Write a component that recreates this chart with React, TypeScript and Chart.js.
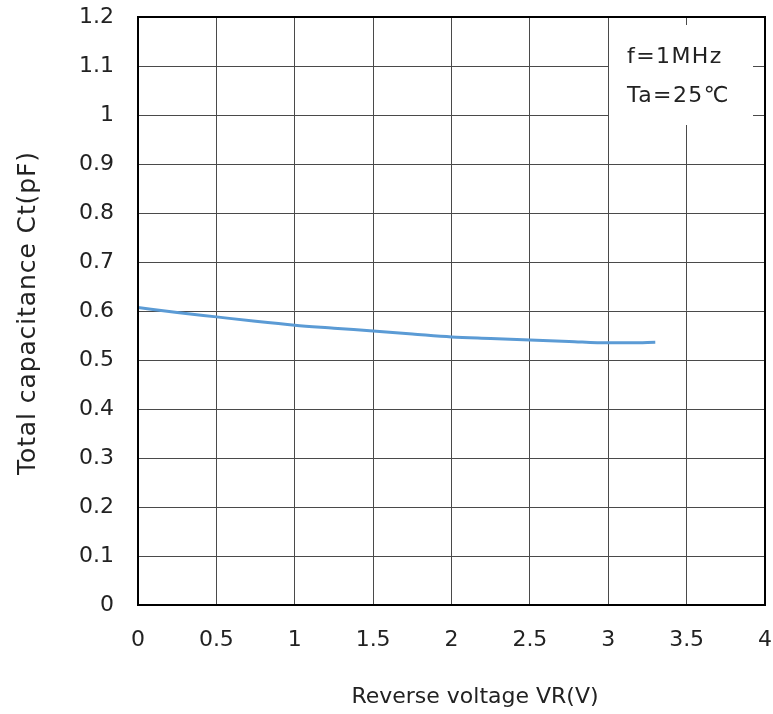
import React, { useEffect, useRef } from "react";
import { Chart, registerables } from "chart.js";

Chart.register(...registerables);

const voltage = [0, 0.25, 0.5, 0.75, 1, 1.25, 1.5, 1.75, 2, 2.25, 2.5, 2.75, 3, 3.15, 3.3];
const capacitance = [0.607, 0.597, 0.588, 0.579, 0.571, 0.565, 0.559, 0.553, 0.547, 0.544, 0.541, 0.538, 0.535, 0.535, 0.536];
const xTitle = "Reverse voltage VR(V)";
const yTitle = "Total capacitance Ct(pF)";
const noteLines = ["f=1MHz", "Ta=25℃"];

const FONT = "'DejaVu Sans', Verdana, sans-serif";

const fmt = (v: any) => String(Math.round(Number(v) * 10) / 10);

const zeroPad = (s: any) => {
  s.paddingTop = 0;
  s.paddingBottom = 0;
  s.paddingLeft = 0;
  s.paddingRight = 0;
};

const overlay = {
  id: "overlay",
  afterDraw(chart: any) {
    const ctx = chart.ctx;
    const area = chart.chartArea;
    ctx.save();
    ctx.fillStyle = "#ffffff";
    ctx.fillRect(609, 25, 144, 100);
    ctx.fillStyle = "#222";
    ctx.font = `22px ${FONT}`;
    (ctx as any).letterSpacing = "1.4px";
    ctx.textBaseline = "middle";
    ctx.textAlign = "left";
    ctx.fillText(noteLines[0], 627, 57);
    ctx.fillText(noteLines[1], 627, 96);
    (ctx as any).letterSpacing = "0px";
    ctx.font = `22px ${FONT}`;
    ctx.textAlign = "center";
    ctx.fillText(xTitle, 475, 697);
    ctx.translate(28, (area.top + area.bottom) / 2 + 2);
    ctx.rotate(-Math.PI / 2);
    ctx.font = `25px ${FONT}`;
    (ctx as any).letterSpacing = "0.9px";
    ctx.fillText(yTitle, 0, 0);
    ctx.restore();
  },
};

const frame = {
  id: "frame",
  afterDatasetsDraw(chart: any) {
    const { ctx, chartArea: a } = chart;
    ctx.save();
    ctx.strokeStyle = "#000";
    ctx.lineWidth = 2;
    ctx.strokeRect(a.left, a.top, a.right - a.left, a.bottom - a.top);
    ctx.restore();
  },
};

export default function App() {
  const ref = useRef<HTMLCanvasElement>(null);
  useEffect(() => {
    const chart = new Chart(ref.current!, {
      type: "line",
      data: {
        datasets: [
          {
            data: voltage.map((v, i) => ({ x: v, y: capacitance[i] })),
            borderColor: "#5B9BD5",
            borderWidth: 3,
            pointRadius: 0,
            cubicInterpolationMode: "monotone",
            fill: false,
          },
        ],
      },
      options: {
        animation: false,
        responsive: false,
        layout: { padding: { top: 17, right: 8, left: 0, bottom: 0 } },
        plugins: { legend: { display: false }, tooltip: { enabled: false } },
        scales: {
          x: {
            type: "linear",
            min: 0,
            max: 4,
            afterFit: (s: any) => { s.height = 109; zeroPad(s); },
            ticks: { stepSize: 0.5, color: "#222", font: { family: FONT, size: 22 }, padding: 22, maxRotation: 0, callback: fmt },
            grid: { color: "#4a4a4a", lineWidth: 1, drawTicks: false },
            border: { color: "#000", width: 2 },
          },
          y: {
            min: 0,
            max: 1.2,
            afterFit: (s: any) => { s.width = 138; zeroPad(s); },
            ticks: { stepSize: 0.1, color: "#222", font: { family: FONT, size: 22 }, padding: 24, callback: fmt },
            grid: { color: "#4a4a4a", lineWidth: 1, drawTicks: false },
            border: { color: "#000", width: 2 },
          },
        },
      },
      plugins: [overlay, frame],
    });
    return () => chart.destroy();
  }, []);
  return (
    <div style={{ position: "fixed", left: 0, top: 0, width: 773, height: 714, background: "#fff" }}>
      <canvas ref={ref} width={773} height={714} />
    </div>
  );
}
